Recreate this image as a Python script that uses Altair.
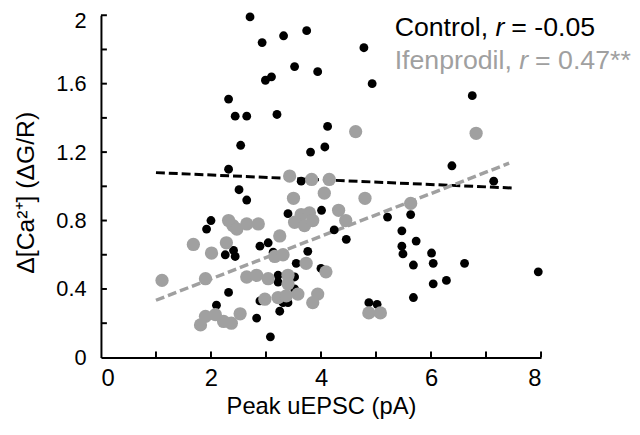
import altair as alt
import pandas as pd

# ---- data ----
ctrl_x = [2.71, 2.93, 2.99, 3.10, 2.32, 2.44, 2.65, 2.54, 2.32, 2.51, 2.65,
          3.32, 3.74, 4.78, 3.52, 3.94, 4.93, 3.20, 4.12, 4.07, 3.81, 3.64,
          6.75, 6.38, 7.14, 6.61, 6.28, 7.95,
          3.40, 4.01, 5.21, 5.63, 4.24, 4.46, 5.47, 5.73, 5.47, 5.49, 6.01, 5.68,
          6.04, 6.04, 5.68, 4.87, 5.02, 3.08,
          2.00, 1.92, 2.89, 3.04, 2.26, 2.41, 2.44, 3.13, 3.76, 3.55, 4.00, 3.22,
          3.22, 3.52, 2.32, 3.52, 2.89, 3.31, 3.40, 2.10, 3.25, 2.83]
ctrl_y = [1.99, 1.84, 1.62, 1.64, 1.51, 1.41, 1.41, 1.24, 1.10, 0.98, 0.92,
          1.88, 1.91, 1.81, 1.70, 1.67, 1.60, 1.42, 1.35, 1.23, 1.20, 1.03,
          1.53, 1.12, 1.03, 0.55, 0.45, 0.50,
          0.84, 0.86, 0.82, 0.835, 0.745, 0.69, 0.74, 0.68, 0.65, 0.605, 0.61, 0.54,
          0.55, 0.43, 0.35, 0.32, 0.31, 0.12,
          0.80, 0.75, 0.65, 0.67, 0.60, 0.625, 0.59, 0.615, 0.62, 0.55, 0.52, 0.48,
          0.44, 0.47, 0.38, 0.40, 0.33, 0.32, 0.32, 0.305, 0.27, 0.23]

ifen_x = [4.63, 3.43, 3.83, 4.15, 3.50, 4.06, 4.80, 5.63, 6.82, 4.32, 4.45, 4.87, 5.08,
          3.64, 3.79, 3.52, 3.70, 3.85,
          2.32, 2.40, 2.47, 2.65, 2.86,
          3.25, 2.28, 2.01, 1.68,
          3.16, 3.31, 3.73, 4.09,
          1.90, 1.11, 2.65, 2.83, 3.04, 3.40, 3.40,
          2.98, 3.22, 3.37, 3.58, 3.94, 3.85,
          1.90, 2.08, 2.23, 2.37, 1.81, 2.53]
ifen_y = [1.32, 1.06, 1.04, 1.04, 0.93, 0.96, 0.93, 0.90, 1.31, 0.86, 0.80, 0.26, 0.26,
          0.835, 0.845, 0.79, 0.77, 0.80,
          0.80, 0.77, 0.75, 0.78, 0.78,
          0.71, 0.67, 0.61, 0.66,
          0.59, 0.60, 0.55, 0.50,
          0.46, 0.45, 0.47, 0.48, 0.46, 0.48, 0.43,
          0.34, 0.35, 0.36, 0.37, 0.37, 0.32,
          0.24, 0.25, 0.21, 0.20, 0.19, 0.255]

# fitted trend lines (end points)
ctrl_fit_x = [1.0, 7.49]
ctrl_fit_y = [1.08, 0.99]
ifen_fit_x = [1.0, 7.42]
ifen_fit_y = [0.334, 1.135]

x_label_values = [0, 2, 4, 6, 8]
x_tick_values = [1, 2, 3, 4, 5, 6, 7, 8]
y_label_values = [0, 0.4, 0.8, 1.2, 1.6, 2]
y_tick_values = [0.2, 0.4, 0.6, 0.8, 1.0, 1.2, 1.4, 1.6, 1.8, 2.0]

legend_ctrl = ["Control,", "r", "= -0.05"]
legend_ifen = ["Ifenprodil,", "r", "= 0.47**"]

# ---- styling ----
W, H = 445, 346
FONT = "Liberation Sans"
GREY = "#a0a0a0"
xs = alt.Scale(domain=[0, 8], nice=False, zero=False)
ys = alt.Scale(domain=[0, 2], nice=False, zero=False)

ctrl = pd.DataFrame({"x": ctrl_x, "y": ctrl_y})
ifen = pd.DataFrame({"x": ifen_x, "y": ifen_y})
cfit = pd.DataFrame({"x": ctrl_fit_x, "y": ctrl_fit_y})
ifit = pd.DataFrame({"x": ifen_fit_x, "y": ifen_fit_y})

x_axis = alt.Axis(values=x_label_values, ticks=False, tickSize=0, grid=False,
                  domainColor="black", domainWidth=2,
                  labelFont=FONT, labelFontSize=24, labelColor="black", labelPadding=9,
                  title="Peak uEPSC (pA)", titleFont=FONT, titleFontSize=24,
                  titleFontWeight="normal", titleColor="black",
                  titleBaseline="alphabetic", titleY=57)
y_axis = alt.Axis(values=y_label_values, format=".1~f", ticks=False, tickSize=0, grid=False,
                  domainColor="black", domainWidth=2,
                  labelFont=FONT, labelFontSize=22, labelColor="black", labelPadding=15,
                  labelOffset={"condition": {"test": "datum.value == 2", "value": 5}, "value": 0},
                  title="Δ[Ca²⁺] (ΔG/R)", titleFont=FONT, titleFontSize=25,
                  titleFontWeight="normal", titleColor="black",
                  titleAngle=270, titleBaseline="alphabetic", titleAlign="center",
                  titleX=-68, titleY=H / 2 + 6)

X = lambda f: alt.X(f, scale=xs, axis=x_axis)
Y = lambda f: alt.Y(f, scale=ys, axis=y_axis)

lines = (
    alt.Chart(cfit).mark_line(color="black", strokeWidth=3, strokeDash=[9, 4]).encode(
        x=X("x:Q"), y=Y("y:Q"))
    + alt.Chart(ifit).mark_line(color=GREY, strokeWidth=3.5, strokeDash=[9, 4]).encode(
        x=X("x:Q"), y=Y("y:Q"))
)

black_pts = alt.Chart(ctrl).mark_circle(color="black", size=80, opacity=1).encode(
    x=X("x:Q"), y=Y("y:Q"))
grey_pts = alt.Chart(ifen).mark_circle(color=GREY, size=180, opacity=1).encode(
    x=X("x:Q"), y=Y("y:Q"))

xt = alt.Chart(pd.DataFrame({"v": x_tick_values})).mark_rule(color="black", strokeWidth=2).encode(
    x=X("v:Q"), y=alt.value(H), y2=alt.value(H - 6))
yt = alt.Chart(pd.DataFrame({"v": y_tick_values})).mark_rule(color="black", strokeWidth=2).encode(
    y=Y("v:Q"), x=alt.value(0), x2=alt.value(6))

def legend_parts(parts, color, y, xs_pos):
    layers = []
    for txt, xp in zip(parts, xs_pos):
        style = "italic" if txt == "r" else "normal"
        layers.append(
            alt.Chart(pd.DataFrame({"t": [txt]})).mark_text(
                align="left", baseline="alphabetic", font=FONT, fontSize=27,
                fontStyle=style, color=color
            ).encode(text="t:N", x=alt.value(xp), y=alt.value(y))
        )
    return layers

leg = legend_parts(legend_ctrl, "black", 21, [297, 399, 415]) + \
      legend_parts(legend_ifen, GREY, 54, [297, 423, 439])

chart = alt.layer(lines, black_pts, grey_pts, xt, yt, *leg).properties(
    width=W, height=H,
    autosize=alt.AutoSizeParams(type="none"),
    padding={"left": 94, "top": 5, "right": 92, "bottom": 63},
).configure_view(stroke=None)

chart.save("out.html", embed_options={"renderer": "svg", "actions": False})
